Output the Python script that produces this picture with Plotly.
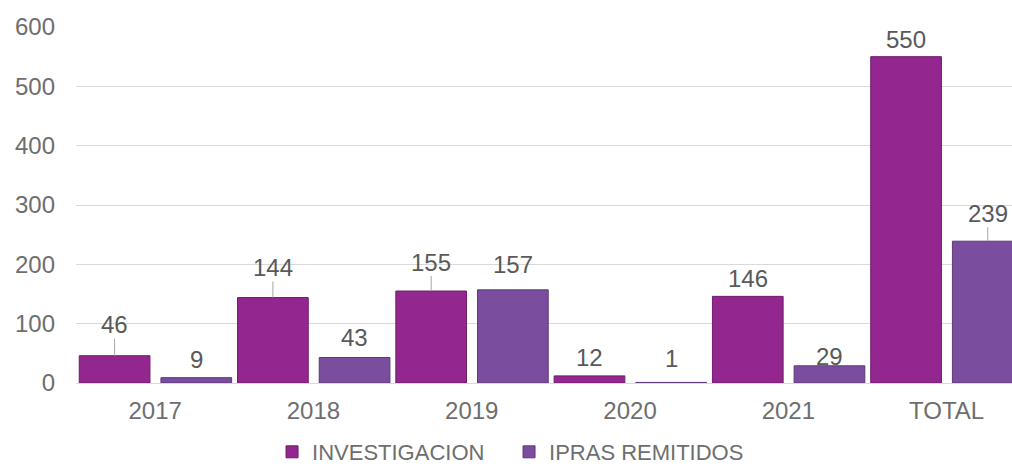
import plotly.graph_objects as go

categories = ["2017", "2018", "2019", "2020", "2021", "TOTAL"]
investigacion = [46, 144, 155, 12, 146, 550]
ipras = [9, 43, 157, 1, 29, 239]
series_names = ["INVESTIGACION", "IPRAS REMITIDOS"]

# label vertical offsets (pixels above bar top) as placed in the original
inv_label_offsets = [31, 30, 29, 18, 18, 17]
ipr_label_offsets = [18, 20, 25, 24, 9, 28]

C_INV = "#93278F"
C_IPR = "#7B4D9E"
TXT = "#595959"
TICK = "#6E6E6E"
FONT = "Liberation Sans, Arial, sans-serif"

BAR_W = 0.4466
OFF_INV = -0.4795
OFF_IPR = 0.0366
LEADER_MIN = 27  # leader lines only when the label sits far from the bar


def label(xpos, v, off):
    return dict(
        x=xpos, y=v, xref="x", yref="y",
        text=str(v), showarrow=off >= LEADER_MIN, arrowhead=0, arrowwidth=1,
        arrowcolor="#A6A6A6", ax=0, ay=-off, yshift=0 if off >= LEADER_MIN else off,
        standoff=0, borderpad=0,
        font=dict(family=FONT, size=24, color=TXT),
    )


fig = go.Figure()
fig.add_trace(go.Bar(
    name=series_names[0], x=categories, y=investigacion,
    width=BAR_W, offset=OFF_INV,
    marker=dict(color=C_INV, line=dict(color="#6E1D6B", width=1)),
))
fig.add_trace(go.Bar(
    name=series_names[1], x=categories, y=ipras,
    width=BAR_W, offset=OFF_IPR,
    marker=dict(color=C_IPR, line=dict(color="#5C3A78", width=1)),
))

annotations = []
for i, (v, off) in enumerate(zip(investigacion, inv_label_offsets)):
    annotations.append(label(i + OFF_INV + BAR_W / 2, v, off))
for i, (v, off) in enumerate(zip(ipras, ipr_label_offsets)):
    annotations.append(label(i + OFF_IPR + BAR_W / 2, v, off))

fig.update_layout(
    width=1012, height=466,
    margin=dict(l=76, r=0, t=27, b=83, autoexpand=False),
    paper_bgcolor="white", plot_bgcolor="white",
    font=dict(family=FONT, size=24, color=TXT),
    annotations=annotations,
    showlegend=True,
    legend=dict(
        orientation="h", xref="container", x=0.503, xanchor="center",
        yref="container", y=0.03, yanchor="middle",
        font=dict(family=FONT, size=22, color=TICK),
        itemwidth=30, tracegroupgap=0, entrywidth=192,
    ),
    xaxis=dict(
        type="category", range=[-0.5, 5.413], automargin=False,
        showgrid=False, showline=True, linecolor="#D9D9D9", linewidth=1,
        ticks="", ticklabelstandoff=6,
        tickfont=dict(family=FONT, size=24, color=TICK),
    ),
    yaxis=dict(
        range=[0, 600], tickvals=[0, 100, 200, 300, 400, 500, 600], automargin=False,
        showgrid=True, gridcolor="#D9D9D9", gridwidth=1,
        zeroline=False, showline=False, ticks="", ticklabelstandoff=20,
        tickfont=dict(family=FONT, size=24, color=TICK),
    ),
)

fig.write_html(
    "out.html",
    config={"displayModeBar": False},
    post_script="document.body.style.margin='0';document.body.style.overflow='hidden';",
)
